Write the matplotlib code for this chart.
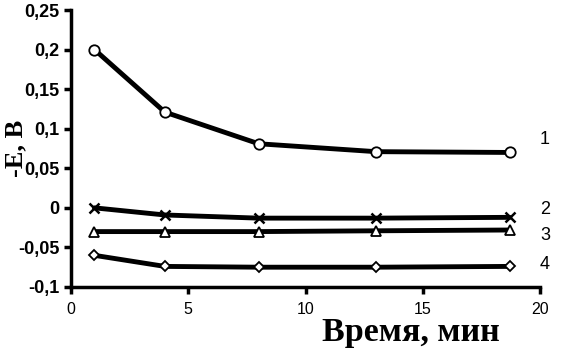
import numpy as np
from matplotlib import pyplot as plt
from matplotlib.ticker import FuncFormatter

####################################### data
time = [1, 4, 8, 13, 18.7]
curve1 = [0.2, 0.121, 0.081, 0.071, 0.07]
curve2 = [0.0, -0.009, -0.013, -0.013, -0.012]
curve3 = [-0.03, -0.03, -0.03, -0.029, -0.028]
curve4 = [-0.06, -0.074, -0.075, -0.075, -0.074]
curve_labels = ['1', '2', '3', '4']

####################################### figure
fig = plt.figure(figsize=(5.61, 3.49), dpi=100)
ax = fig.add_axes([0.1266, 0.1777, 0.836, 0.7936])

styles = [('o', 7.5), ('x', 7.5), ('^', 6.5), ('D', 5.5)]
series = [curve1, curve2, curve3, curve4]
label_y = [0.086, -0.002, -0.035, -0.072]
for vals, (mk, ms), lab, ly in zip(series, styles, curve_labels, label_y):
    ax.plot(time, vals, color='black', lw=3.5, solid_joinstyle='round',
            solid_capstyle='round', zorder=2)
    ax.plot(time, vals, ls='none', marker=mk, ms=ms, mfc='white', mec='black',
            mew=1.8 if mk == 'x' else 1.3, zorder=3)
    ax.text(20.0, ly, lab, fontsize=13, family='Liberation Sans', va='center', ha='left',
            clip_on=False)

ax.set_xlim(0, 20)
ax.set_ylim(-0.1, 0.25)
ax.set_xticks([0, 5, 10, 15, 20])
ax.set_yticks(np.arange(-0.1, 0.26, 0.05))
ax.yaxis.set_major_formatter(FuncFormatter(lambda v, p: ('%g' % round(v, 2)).replace('.', ',')))

for s in ['top', 'right']:
    ax.spines[s].set_visible(False)
for s in ['left', 'bottom']:
    ax.spines[s].set_linewidth(2.5)
ax.tick_params(direction='out', width=2.5, length=5)
ax.tick_params(axis='x', pad=6)
for t in ax.get_yticklabels():
    t.set_fontsize(13)
    t.set_weight('bold')
    t.set_family('Liberation Sans')
for t in ax.get_xticklabels():
    t.set_fontsize(11.5)
    t.set_family('Liberation Sans')

fig.text(0.029, 0.575, '-E, В', rotation=90, fontsize=19, weight='bold',
         family='Liberation Serif', ha='center', va='center')
fig.text(0.733, 0.046, 'Время, мин', fontsize=24.5, weight='bold',
         family='Liberation Serif', ha='center', va='center')

fig.savefig('out.png', dpi=100)
